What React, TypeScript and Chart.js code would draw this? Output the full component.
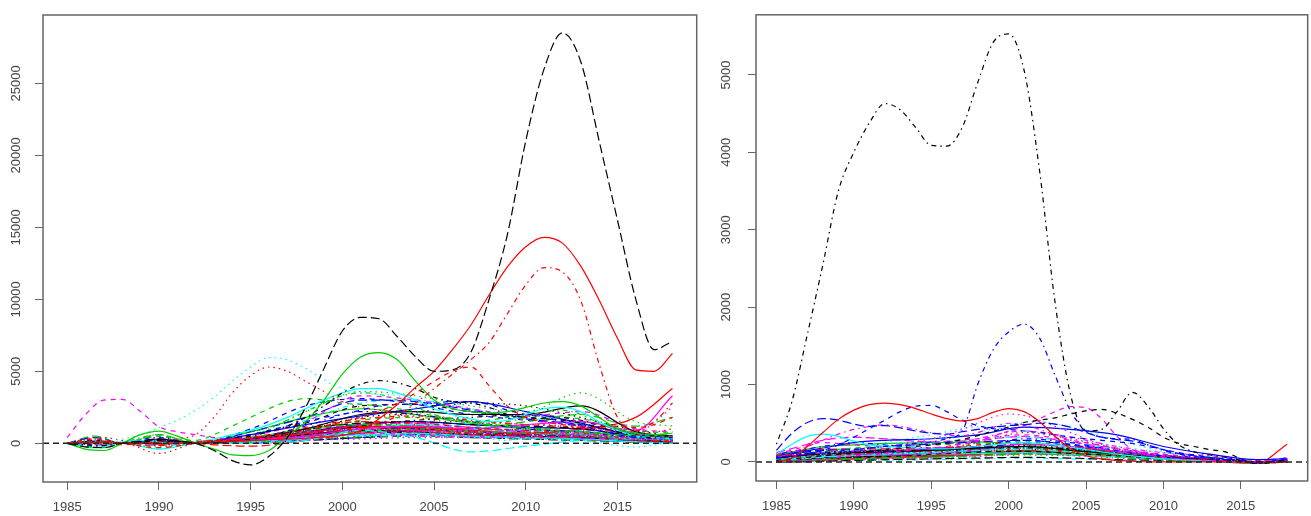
import { useEffect, useRef } from "react";
import { Chart, registerables } from "chart.js";

Chart.register(...registerables);

// ---------- categories / ticks ----------
const YEARS = [1985, 1986, 1987, 1988, 1989, 1990, 1991, 1992, 1993, 1994, 1995, 1996, 1997, 1998, 1999, 2000, 2001, 2002, 2003, 2004, 2005, 2006, 2007, 2008, 2009, 2010, 2011, 2012, 2013, 2014, 2015, 2016, 2017, 2018];
const BG_YEARS = [1985, 1986.5, 1988, 1990, 1992, 1995, 1998, 2001, 2004, 2007, 2010, 2013, 2016, 2018];
const X_TICKS = [1985, 1990, 1995, 2000, 2005, 2010, 2015];
const LEFT_Y_TICKS = [0, 5000, 10000, 15000, 20000, 25000];
const RIGHT_Y_TICKS = [0, 1000, 2000, 3000, 4000, 5000];
const X_MIN = 1983.68;
const X_MAX = 2019.32;
const LEFT_Y_MIN = -2687;
const LEFT_Y_MAX = 29743;
const RIGHT_Y_MIN = -246;
const RIGHT_Y_MAX = 5777;
const ZERO_LINE = [0, 0];

// ---------- left panel: prominent series (yearly) ----------
const L_BLACK_PEAK = [0, -250, -300, 0, 150, 250, 150, 0, -500, -1200, -1500, -900, 400, 2500, 5200, 7800, 8750, 8650, 7400, 6000, 5000, 5100, 6300, 10000, 14500, 21000, 26000, 28500, 26500, 21000, 15500, 10000, 6500, 7100];
const L_RED_SOLID = [0, 50, 100, 50, 0, -50, 0, 50, 100, 150, 200, 250, 300, 350, 450, 550, 900, 1700, 2700, 3900, 5000, 6500, 8200, 10300, 12250, 13650, 14300, 13900, 12300, 9950, 7300, 5100, 5000, 6250];
const L_RED_DOTDASH = [0, 100, 150, 0, -100, -150, 0, 100, 200, 300, 400, 500, 600, 700, 800, 900, 1100, 1400, 1900, 2800, 3800, 4800, 5800, 7000, 9000, 11000, 12200, 11900, 9900, 5500, 1800, 900, 1500, 2800];
const L_GREEN_SOLID = [0, -400, -500, 0, 600, 850, 500, 0, -400, -800, -850, -500, 500, 1500, 3000, 4800, 6000, 6300, 5800, 4300, 3000, 2400, 2200, 2100, 2200, 2500, 2800, 2900, 2600, 1800, 1000, 700, 600, 700];
const L_CYAN_DOTTED = [0, 100, 150, 300, 600, 1100, 1600, 2300, 3200, 4300, 5300, 5950, 5800, 5200, 4400, 3800, 3500, 3400, 3300, 3000, 2600, 2000, 1200, 400, 200, 400, 600, 700, 600, 500, 400, 300, 300, 300];
const L_RED_DOTTED = [0, 300, 400, 200, 0, 100, 300, 600, 1800, 3500, 4700, 5300, 5000, 4300, 3600, 2900, 2500, 2300, 2000, 1800, 1600, 1500, 1500, 1400, 1400, 1300, 1300, 1200, 1100, 1000, 900, 800, 800, 1000];
const L_MAGENTA_DASHED = [400, 2000, 3000, 3050, 2200, 1150, 800, 600, 400, 300, 300, 350, 400, 450, 500, 600, 650, 700, 650, 600, 550, 500, 500, 450, 450, 400, 400, 400, 350, 300, 300, 250, 300, 500];
const L_RED_DASHED = [0, 100, 0, -100, 0, 100, 0, 100, 200, 300, 400, 500, 700, 900, 1200, 1500, 1800, 2200, 2800, 3500, 4300, 5000, 5300, 4000, 2600, 1800, 1500, 1300, 1200, 1100, 1200, 1100, 1300, 1800];
const L_BLACK_DOTDASH = [0, -100, -150, 0, 100, 150, 100, 0, 100, 300, 500, 800, 1200, 1800, 2600, 3500, 4100, 4350, 4200, 3800, 3200, 2900, 2800, 2500, 2000, 1800, 1700, 1600, 1400, 1100, 800, 500, 400, 400];
const L_CYAN_SOLID = [0, 50, 0, 100, 200, 100, 0, 100, 300, 600, 900, 1300, 1800, 2400, 3000, 3500, 3800, 3800, 3500, 3000, 2400, 2000, 1700, 1500, 1600, 2000, 2400, 2500, 2200, 1500, 900, 500, 400, 300];
const L_BLUE_DASHED = [0, 0, 0, 0, 0, 0, 0, 100, 200, 400, 600, 900, 1200, 1500, 1800, 2000, 2300, 2600, 2700, 2700, 2800, 2900, 2900, 2700, 2300, 2000, 1800, 1500, 1200, 900, 600, 400, 300, 300];
const L_GREEN_DOTDASH = [0, -200, -300, 0, 400, 600, 300, 0, 200, 500, 800, 1100, 1600, 2200, 2800, 3300, 3500, 3400, 3000, 2500, 2000, 1700, 1500, 1400, 1500, 1800, 2200, 2300, 2000, 1400, 900, 600, 500, 500];
const L_GREEN_DASHED = [0, 100, 0, 0, 300, 500, 300, 200, 600, 1200, 1800, 2400, 2900, 3100, 3000, 2800, 2700, 2600, 2400, 2200, 1900, 1700, 1500, 1300, 1200, 1100, 1000, 900, 800, 700, 600, 500, 400, 400];

// ---------- left panel: background series (BG_YEARS) ----------
const LB00 = [0, 100, 0, 300, 0, 300, 1000, 2000, 2200, 2000, 2000, 2600, 800, 500];
const LB01 = [0, 300, 0, -300, 0, 400, 900, 1500, 1400, 1100, 900, 700, 300, 200];
const LB02 = [0, 250, 0, -250, 0, 500, 2200, 3600, 3300, 2600, 2200, 3500, 1500, 1200];
const LB03 = [0, -200, 0, 400, 0, 300, 1200, 2200, 2000, 1500, 1000, 800, 400, 300];
const LB04 = [0, 0, 0, -100, 0, 0, 200, 900, 400, -600, -200, 200, 300, 200];
const LB05 = [0, 0, 0, 0, 0, 200, 500, 1000, 1200, 1000, 1300, 1500, 900, 3300];
const LB06 = [0, 200, 0, 200, 0, 600, 1400, 2600, 2700, 2200, 1800, 1500, 700, 500];
const LB07 = [0, -100, 0, -700, 0, 200, 700, 1000, 900, 700, 600, 500, 200, 100];
const LB08 = [0, 100, 0, 100, 0, 100, 500, 800, 1000, 800, 700, 600, 300, 300];
const LB09 = [0, 400, 0, 300, 0, 800, 1800, 3000, 2900, 2300, 1700, 1300, 600, 400];
const LB10 = [0, -300, 0, -400, 0, 100, 400, 600, 700, 500, 400, 300, 100, 0];
const LB11 = [0, 200, 0, 500, 0, 500, 1500, 3300, 3000, 2400, 1900, 2200, 1000, 800];
const LB12 = [0, 0, 0, 100, 0, 200, 900, 1800, 2100, 2800, 2600, 1800, 900, 500];
const LB13 = [0, 100, 0, -100, 0, 300, 1100, 1700, 1900, 1600, 1300, 1100, 600, 300];
const LB14 = [0, 500, 0, 600, 0, 400, 1000, 1300, 1200, 1000, 1500, 2000, 1200, 1800];
const LB15 = [0, 150, 0, 150, 0, 600, 1300, 1900, 2400, 2900, 2200, 1400, 500, 300];
const LB16 = [0, -150, 0, 200, 0, 0, 300, 900, 1300, 1200, 900, 700, 400, 200];
const LB17 = [0, -100, 0, 100, 0, 300, 800, 1000, 800, 600, 500, 900, 800, 2500];
const LB18 = [0, 0, 0, 0, 0, 100, 600, 1200, 1600, 1800, 2000, 1600, 700, 400];
const LB19 = [0, 0, 0, 300, 0, -200, 200, 700, 800, 600, 500, 400, 200, 100];
const LB20 = [0, 100, 0, 0, 0, 800, 1800, 2400, 2000, 1400, 1000, 800, 500, 300];
const LB21 = [0, 0, 0, 200, 0, 1000, 2600, 3100, 2700, 2000, 1600, 1200, 700, 500];
const LB22 = [0, 50, 0, 50, 0, 50, 300, 500, 500, 400, 300, 200, -250, 100];
const LB23 = [0, -50, 0, -50, 0, 150, 400, 600, 500, 400, 400, 500, 300, 200];
const LB24 = [0, 0, 0, 0, 0, 400, 1000, 1400, 1500, 1300, 1200, 1000, 500, 300];
const LB25 = [0, 0, 0, 0, 0, 200, 700, 1200, 1100, 900, 700, 1000, 1800, 3800];
const LB26 = [0, 0, 0, 0, 0, 300, 800, 1600, 1800, 1500, 1900, 1700, 900, 700];
const LB27 = [0, 0, 0, 0, 0, 100, 500, 900, 1000, 800, 600, 400, 200, 200];
const LB28 = [0, 200, 0, 0, 0, 600, 1600, 2800, 3000, 2400, 1800, 1300, 600, 300];
const LB29 = [0, 0, 0, -150, 0, 200, 600, 1300, 1400, 1100, 800, 700, 300, 200];
const LB30 = [0, 0, 0, 0, 0, 200, 600, 900, 800, 600, 500, 400, 200, 100];
const LB31 = [0, 0, 0, 0, 0, 100, 400, 1100, 1000, 700, 600, 800, 400, 300];
const LB32 = [0, 0, 0, 0, 0, 300, 900, 1400, 1200, 900, 700, 500, 300, 200];
const LB33 = [0, 0, 0, 0, 0, 50, 200, 400, 600, 700, 500, 300, 150, 100];
const LB34 = [0, 0, 0, 0, 0, 150, 700, 1000, 1300, 1000, 800, 900, 500, 400];
const LB35 = [0, 0, 0, 0, 0, 0, 300, 700, 900, 800, 700, 600, 300, 200];
const LB36 = [0, 0, 0, 0, 0, 100, 500, 800, 700, 500, 400, 300, 100, 100];
const LB37 = [0, 0, 0, 0, 0, 250, 800, 1200, 1100, 900, 1000, 1100, 600, 400];
const LB38 = [0, 0, 0, 0, 0, 200, 500, 700, 900, 700, 500, 400, 200, 100];
const LB39 = [0, 100, 0, 0, 0, 300, 700, 1100, 1000, 800, 600, 500, 300, 200];
const LB40 = [0, 0, 0, 100, 0, 100, 400, 600, 600, 500, 400, 300, 200, 100];
const LB41 = [0, -100, 0, 0, 0, 200, 600, 1000, 1200, 1100, 900, 700, 300, 200];
const LB42 = [0, 0, 0, 0, 0, 100, 300, 500, 700, 600, 500, 400, 200, 100];
const LB43 = [0, 0, 0, 0, 0, 300, 1000, 1500, 1300, 1000, 900, 800, 400, 300];
const LB44 = [0, 0, 0, 0, 0, 50, 250, 450, 500, 450, 350, 250, 100, 50];
const LB45 = [0, 100, 0, 100, 0, 200, 800, 1300, 1500, 1300, 1100, 1000, 500, 400];
const LB46 = [0, 0, 0, 0, 0, 150, 400, 700, 800, 700, 600, 700, 400, 300];
const LB47 = [0, 0, 0, 0, 0, 0, 200, 300, 400, 400, 300, 200, 100, 100];
const LB48 = [0, 0, 0, -100, 0, 200, 700, 1200, 1000, 800, 700, 600, 300, 200];
const LB49 = [0, 0, 0, 0, 0, 100, 400, 900, 1100, 900, 800, 600, 300, 200];
const LB50 = [0, 0, 0, 0, 0, 200, 500, 600, 600, 500, 400, 300, 200, 100];
const LB51 = [0, 50, 0, 0, 0, 300, 900, 1300, 1200, 1000, 800, 600, 300, 200];
const LB52 = [0, 0, 0, 0, 0, 100, 300, 600, 800, 900, 700, 500, 200, 100];
const LB53 = [0, 0, 0, 0, 0, 200, 600, 800, 700, 600, 600, 700, 400, 300];
const LB54 = [0, 0, 0, 0, 0, 100, 200, 400, 500, 400, 300, 200, 100, 0];
const LB55 = [0, 0, 0, 0, 0, 300, 800, 1100, 1000, 800, 700, 600, 300, 200];
const LB56 = [0, 0, 0, 0, 0, 100, 500, 1000, 900, 700, 600, 500, 200, 200];
const LB57 = [0, 0, 0, 0, 0, 200, 600, 900, 1100, 1000, 800, 600, 300, 200];

// ---------- right panel: prominent series (yearly) ----------
const R_BLACK_DOTDASH = [230, 780, 1650, 2550, 3500, 4000, 4380, 4630, 4550, 4320, 4090, 4080, 4320, 4900, 5420, 5530, 5060, 3760, 2060, 870, 400, 420, 650, 900, 720, 430, 220, 130, 90, 60, 20, -20, -10, 40];
const R_BLUE_DOTDASH = [60, 80, 100, 120, 140, 160, 180, 200, 220, 240, 260, 300, 400, 1000, 1450, 1680, 1780, 1600, 1120, 660, 400, 320, 300, 290, 220, 150, 100, 70, 50, 30, 10, -20, 10, 60];
const R_RED_SOLID = [0, 50, 200, 380, 550, 670, 740, 760, 740, 690, 620, 560, 530, 560, 640, 690, 650, 520, 330, 170, 80, 40, 20, 10, 0, 0, 0, 0, 0, 0, 0, -10, -10, 0];
const R_BLUE_DASHED = [50, 80, 110, 150, 220, 320, 430, 540, 650, 720, 730, 650, 540, 470, 430, 420, 400, 380, 350, 320, 300, 280, 260, 240, 200, 160, 120, 90, 60, 40, 20, 0, 0, 20];
const R_BLUE_LONGDASH = [150, 370, 510, 560, 540, 490, 460, 470, 440, 400, 370, 360, 390, 420, 450, 470, 480, 500, 490, 450, 380, 320, 290, 270, 220, 160, 110, 80, 60, 40, 20, -10, 0, 30];
const R_BLACK_LONGDASH = [20, 40, 60, 80, 100, 120, 140, 160, 180, 200, 220, 250, 290, 340, 400, 450, 510, 540, 570, 620, 660, 680, 630, 550, 450, 320, 240, 200, 160, 130, 40, -10, -10, 10];
const R_MAGENTA_DASHED = [0, 10, 20, 40, 60, 80, 100, 120, 140, 160, 180, 200, 230, 270, 330, 400, 470, 560, 650, 715, 700, 560, 330, 160, 90, 60, 40, 30, 20, 10, 0, 0, 0, 10];
const R_CYAN_SOLID = [100, 230, 330, 360, 330, 270, 220, 200, 190, 180, 170, 170, 180, 200, 220, 240, 250, 240, 220, 190, 160, 130, 100, 80, 60, 40, 30, 20, 10, 0, 0, -10, 0, 10];
const R_MAGENTA_SOLID = [50, 120, 200, 280, 360, 420, 460, 480, 460, 420, 380, 350, 340, 380, 450, 500, 480, 420, 350, 280, 220, 170, 130, 100, 80, 60, 40, 30, 20, 10, 0, -10, 0, 10];
const R_MAGENTA_DOTTED = [0, 20, 50, 80, 110, 140, 170, 200, 230, 260, 300, 350, 420, 500, 580, 620, 600, 540, 460, 380, 300, 230, 170, 120, 90, 60, 40, 30, 20, 10, 0, -10, 0, 0];
const R_CYAN_DOTTED = [30, 50, 70, 100, 130, 160, 190, 220, 250, 280, 300, 320, 340, 380, 430, 480, 510, 520, 490, 450, 400, 340, 280, 230, 180, 130, 100, 70, 50, 30, 10, -10, 0, 10];

// ---------- right panel: background series (BG_YEARS) ----------
const RB00 = [50, 80, 100, 120, 130, 150, 180, 200, 150, 100, 60, 30, 0, 10];
const RB01 = [80, 100, 90, 100, 120, 160, 220, 250, 200, 120, 60, 40, 10, 20];
const RB02 = [30, 60, 80, 90, 100, 130, 170, 180, 140, 90, 50, 20, -10, 0];
const RB03 = [100, 150, 200, 250, 220, 180, 200, 300, 250, 150, 80, 50, 0, 30];
const RB04 = [20, 40, 60, 80, 100, 120, 150, 160, 130, 100, 60, 30, 0, 10];
const RB05 = [60, 90, 110, 100, 90, 110, 150, 230, 200, 140, 80, 40, -10, 40];
const RB06 = [10, 30, 50, 60, 70, 100, 130, 140, 110, 80, 40, 20, 0, 0];
const RB07 = [40, 80, 130, 150, 140, 160, 250, 380, 300, 170, 90, 40, 0, 20];
const RB08 = [0, 20, 30, 40, 60, 90, 120, 130, 110, 70, 30, 10, -20, 0];
const RB09 = [70, 120, 150, 160, 200, 230, 260, 280, 220, 140, 70, 30, 0, 10];
const RB10 = [30, 50, 70, 80, 90, 100, 110, 120, 100, 70, 40, 20, 0, 0];
const RB11 = [100, 180, 250, 220, 200, 250, 300, 350, 280, 180, 100, 50, 0, 20];
const RB12 = [20, 40, 50, 60, 80, 120, 180, 210, 160, 100, 40, 20, -10, 10];
const RB13 = [50, 70, 80, 90, 100, 110, 140, 160, 140, 100, 60, 30, 0, 0];
const RB14 = [10, 20, 30, 40, 50, 60, 80, 100, 90, 60, 30, 10, 0, 0];
const RB15 = [80, 130, 180, 250, 280, 300, 350, 450, 420, 350, 200, 100, 30, 40];
const RB16 = [40, 60, 90, 120, 180, 250, 300, 320, 260, 160, 80, 30, 0, 10];
const RB17 = [0, 10, 20, 30, 40, 50, 70, 90, 80, 50, 20, 10, 0, 0];
const RB18 = [60, 100, 120, 130, 140, 150, 170, 190, 170, 120, 70, 30, 0, 10];
const RB19 = [20, 30, 40, 50, 60, 70, 90, 110, 100, 80, 50, 30, 0, 0];
const RB20 = [90, 150, 200, 220, 240, 250, 260, 220, 150, 100, 60, 30, 0, 20];
const RB21 = [10, 20, 40, 60, 80, 100, 200, 280, 230, 150, 80, 40, 0, 0];
const RB22 = [30, 70, 100, 150, 250, 350, 450, 400, 300, 200, 120, 60, 0, 20];
const RB23 = [50, 80, 100, 100, 120, 150, 300, 400, 320, 200, 120, 80, 20, 50];
const RB24 = [0, 0, 10, 20, 30, 40, 50, 60, 50, 30, 20, 10, 0, 0];
const RB25 = [0, 10, 20, 40, 60, 80, 110, 150, 120, 80, 40, 10, -20, 230];
const RB26 = [40, 90, 140, 180, 200, 220, 240, 260, 210, 130, 70, 30, 0, 20];
const RB27 = [10, 30, 60, 90, 110, 130, 160, 200, 170, 110, 60, 30, -10, 10];
const RB28 = [0, 0, 10, 20, 20, 30, 40, 50, 40, 30, 20, 10, 0, 0];
const RB29 = [120, 200, 280, 320, 300, 260, 280, 330, 260, 170, 90, 40, 0, 20];
const RB30 = [30, 50, 60, 70, 80, 90, 110, 130, 110, 80, 50, 20, 0, 10];
const RB31 = [60, 90, 110, 120, 130, 140, 160, 180, 150, 100, 60, 30, 0, 10];
const RB32 = [20, 30, 40, 60, 70, 90, 120, 150, 130, 90, 50, 20, -10, 0];
const RB33 = [80, 110, 120, 110, 100, 110, 140, 170, 150, 110, 70, 30, 0, 20];
const RB34 = [40, 70, 90, 100, 110, 130, 160, 200, 170, 120, 70, 40, 0, 10];
const RB35 = [10, 20, 30, 40, 50, 70, 100, 120, 100, 70, 40, 20, 0, 0];
const RB36 = [50, 60, 70, 80, 90, 100, 120, 140, 120, 90, 50, 20, -10, 10];
const RB37 = [70, 100, 130, 150, 160, 170, 190, 210, 180, 130, 80, 40, 0, 20];
const RB38 = [0, 10, 20, 30, 40, 60, 80, 100, 90, 60, 30, 10, 0, 0];
const RB39 = [30, 60, 80, 100, 120, 150, 190, 230, 200, 140, 80, 40, 0, 10];
const RB40 = [90, 120, 130, 120, 110, 120, 150, 190, 160, 110, 60, 30, 0, 20];
const RB41 = [20, 40, 50, 60, 70, 80, 90, 110, 90, 70, 40, 20, 0, 0];
const RB42 = [40, 50, 60, 70, 90, 110, 140, 160, 140, 100, 60, 30, 0, 10];
const RB43 = [60, 80, 100, 110, 120, 140, 170, 190, 160, 110, 60, 30, -10, 10];
const RB44 = [10, 30, 40, 50, 60, 80, 100, 130, 110, 80, 40, 20, 0, 0];
const RB45 = [50, 90, 120, 140, 150, 160, 180, 200, 170, 120, 70, 30, 0, 10];
const RB46 = [20, 30, 50, 70, 90, 110, 130, 150, 130, 90, 50, 20, 0, 0];
const RB47 = [70, 90, 100, 100, 100, 110, 130, 150, 130, 90, 50, 20, 0, 10];
const RB48 = [30, 40, 50, 60, 70, 80, 100, 120, 100, 70, 40, 20, 0, 0];
const RB49 = [100, 140, 160, 170, 170, 180, 200, 230, 190, 130, 70, 30, 0, 20];

// ---------- styles (R palette 1:6, lty 1:5) ----------
const COLORS = ["#000000", "#FF0000", "#00CD00", "#0000FF", "#00FFFF", "#FF00FF"];
const DASHES = [[], [5, 5], [1.5, 4], [1.5, 4, 5, 4], [9, 4]];
const BLACK = 0, RED = 1, GREEN = 2, BLUE = 3, CYAN = 4, MAGENTA = 5;
const SOLID = 0, DASHED = 1, DOTTED = 2, DOTDASH = 3, LONGDASH = 4;

const LEFT_MAIN = [
  { y: L_BLACK_PEAK, c: BLACK, d: LONGDASH },
  { y: L_RED_SOLID, c: RED, d: SOLID },
  { y: L_RED_DOTDASH, c: RED, d: DOTDASH },
  { y: L_GREEN_SOLID, c: GREEN, d: SOLID },
  { y: L_CYAN_DOTTED, c: CYAN, d: DOTTED },
  { y: L_RED_DOTTED, c: RED, d: DOTTED },
  { y: L_MAGENTA_DASHED, c: MAGENTA, d: DASHED },
  { y: L_RED_DASHED, c: RED, d: DASHED },
  { y: L_BLACK_DOTDASH, c: BLACK, d: DOTDASH },
  { y: L_CYAN_SOLID, c: CYAN, d: SOLID },
  { y: L_BLUE_DASHED, c: BLUE, d: DASHED },
  { y: L_GREEN_DOTDASH, c: GREEN, d: DOTDASH },
  { y: L_GREEN_DASHED, c: GREEN, d: DASHED },
];
const LEFT_BG = [LB00, LB01, LB02, LB03, LB04, LB05, LB06, LB07, LB08, LB09, LB10, LB11, LB12, LB13, LB14, LB15, LB16, LB17, LB18, LB19, LB20, LB21, LB22, LB23, LB24, LB25, LB26, LB27, LB28, LB29, LB30, LB31, LB32, LB33, LB34, LB35, LB36, LB37, LB38, LB39, LB40, LB41, LB42, LB43, LB44, LB45, LB46, LB47, LB48, LB49, LB50, LB51, LB52, LB53, LB54, LB55, LB56, LB57];

const RIGHT_MAIN = [
  { y: R_BLACK_DOTDASH, c: BLACK, d: DOTDASH },
  { y: R_BLUE_DOTDASH, c: BLUE, d: DOTDASH },
  { y: R_RED_SOLID, c: RED, d: SOLID },
  { y: R_BLUE_DASHED, c: BLUE, d: DASHED },
  { y: R_BLUE_LONGDASH, c: BLUE, d: LONGDASH },
  { y: R_BLACK_LONGDASH, c: BLACK, d: DASHED },
  { y: R_MAGENTA_DASHED, c: MAGENTA, d: DASHED },
  { y: R_CYAN_SOLID, c: CYAN, d: SOLID },
  { y: R_MAGENTA_SOLID, c: MAGENTA, d: DOTDASH },
  { y: R_MAGENTA_DOTTED, c: MAGENTA, d: DOTTED },
  { y: R_CYAN_DOTTED, c: CYAN, d: DOTTED },
];
const RIGHT_BG = [RB00, RB01, RB02, RB03, RB04, RB05, RB06, RB07, RB08, RB09, RB10, RB11, RB12, RB13, RB14, RB15, RB16, RB17, RB18, RB19, RB20, RB21, RB22, RB23, RB24, RB25, RB26, RB27, RB28, RB29, RB30, RB31, RB32, RB33, RB34, RB35, RB36, RB37, RB38, RB39, RB40, RB41, RB42, RB43, RB44, RB45, RB46, RB47, RB48, RB49];

const FONT = { family: "'Liberation Sans', Arimo, Arial, sans-serif", size: 13 };
const TEXT_COLOR = "#444444";
const FRAME_COLOR = "#666666";
const LINE_WIDTH = 1.2;

function lineDataset(xs: number[], ys: number[], color: string, dash: number[], width = LINE_WIDTH) {
  return {
    data: xs.map((x, i) => ({ x, y: ys[i] })),
    borderColor: color,
    borderDash: dash,
    borderWidth: width,
    pointRadius: 0,
    fill: false,
    cubicInterpolationMode: "monotone",
  };
}

const boxPlugin = {
  id: "rbox",
  afterDraw(chart: any) {
    const { ctx, chartArea } = chart;
    ctx.save();
    ctx.strokeStyle = FRAME_COLOR;
    ctx.lineWidth = 1.5;
    ctx.strokeRect(chartArea.left, chartArea.top, chartArea.right - chartArea.left, chartArea.bottom - chartArea.top);
    ctx.restore();
  },
};

function buildConfig(p: any) {
  const datasets: any[] = [];
  datasets.push(lineDataset([X_MIN, X_MAX], ZERO_LINE, "#222222", [6, 4], 1.5));
  p.main.forEach((s: any) => datasets.push(lineDataset(YEARS, s.y, COLORS[s.c], DASHES[s.d])));
  p.bg.forEach((ys: number[], i: number) => datasets.push(lineDataset(BG_YEARS, ys, COLORS[i % 6], DASHES[i % 5])));
  return {
    type: "line",
    data: { datasets },
    options: {
      animation: false,
      responsive: false,
      maintainAspectRatio: false,
      devicePixelRatio: 1,
      layout: { padding: { top: p.padTop, right: p.padRight, left: 0, bottom: 0 } },
      plugins: { legend: { display: false }, tooltip: { enabled: false } },
      scales: {
        x: {
          type: "linear",
          min: X_MIN,
          max: X_MAX,
          afterBuildTicks: (s: any) => { s.ticks = X_TICKS.map((v) => ({ value: v })); },
          afterFit: (s: any) => { s.height = p.xAxisH; },
          ticks: { font: FONT, color: TEXT_COLOR, padding: 10, maxRotation: 0, autoSkip: false, callback: (v: any) => String(v) },
          grid: { drawOnChartArea: false, drawTicks: true, tickLength: 8, color: FRAME_COLOR },
          border: { display: false },
        },
        y: {
          type: "linear",
          min: p.yMin,
          max: p.yMax,
          afterBuildTicks: (s: any) => { s.ticks = p.yTicks.map((v: number) => ({ value: v })); },
          afterFit: (s: any) => { s.width = p.yAxisW; },
          ticks: { font: FONT, color: TEXT_COLOR, padding: p.yPad, minRotation: 90, maxRotation: 90, crossAlign: "center", autoSkip: false, callback: (v: any) => String(v) },
          grid: { drawOnChartArea: false, drawTicks: true, tickLength: 8, color: FRAME_COLOR },
          border: { display: false },
        },
      },
    },
    plugins: [boxPlugin],
  };
}

const PANELS = [
  { key: "left", left: 0, w: 700, padTop: 15, padRight: 3.3, xAxisH: 34, yAxisW: 43, yPad: 0.5, yMin: LEFT_Y_MIN, yMax: LEFT_Y_MAX, yTicks: LEFT_Y_TICKS, main: LEFT_MAIN, bg: LEFT_BG },
  { key: "right", left: 700, w: 611, padTop: 8.3, padRight: 3.3, xAxisH: 35, yAxisW: 56, yPad: 7, yMin: RIGHT_Y_MIN, yMax: RIGHT_Y_MAX, yTicks: RIGHT_Y_TICKS, main: RIGHT_MAIN, bg: RIGHT_BG },
];

function Panel({ p }: { p: any }) {
  const ref = useRef<HTMLCanvasElement | null>(null);
  useEffect(() => {
    const chart = new Chart(ref.current as HTMLCanvasElement, buildConfig(p) as any);
    return () => chart.destroy();
  }, [p]);
  return (
    <canvas
      ref={ref}
      width={p.w}
      height={516}
      style={{ position: "absolute", left: p.left, top: 0, width: p.w, height: 516 }}
    />
  );
}

export default function App() {
  return (
    <div style={{ position: "fixed", left: 0, top: 0, width: 1311, height: 516, background: "#ffffff", overflow: "hidden" }}>
      {PANELS.map((p) => (
        <Panel key={p.key} p={p} />
      ))}
    </div>
  );
}
